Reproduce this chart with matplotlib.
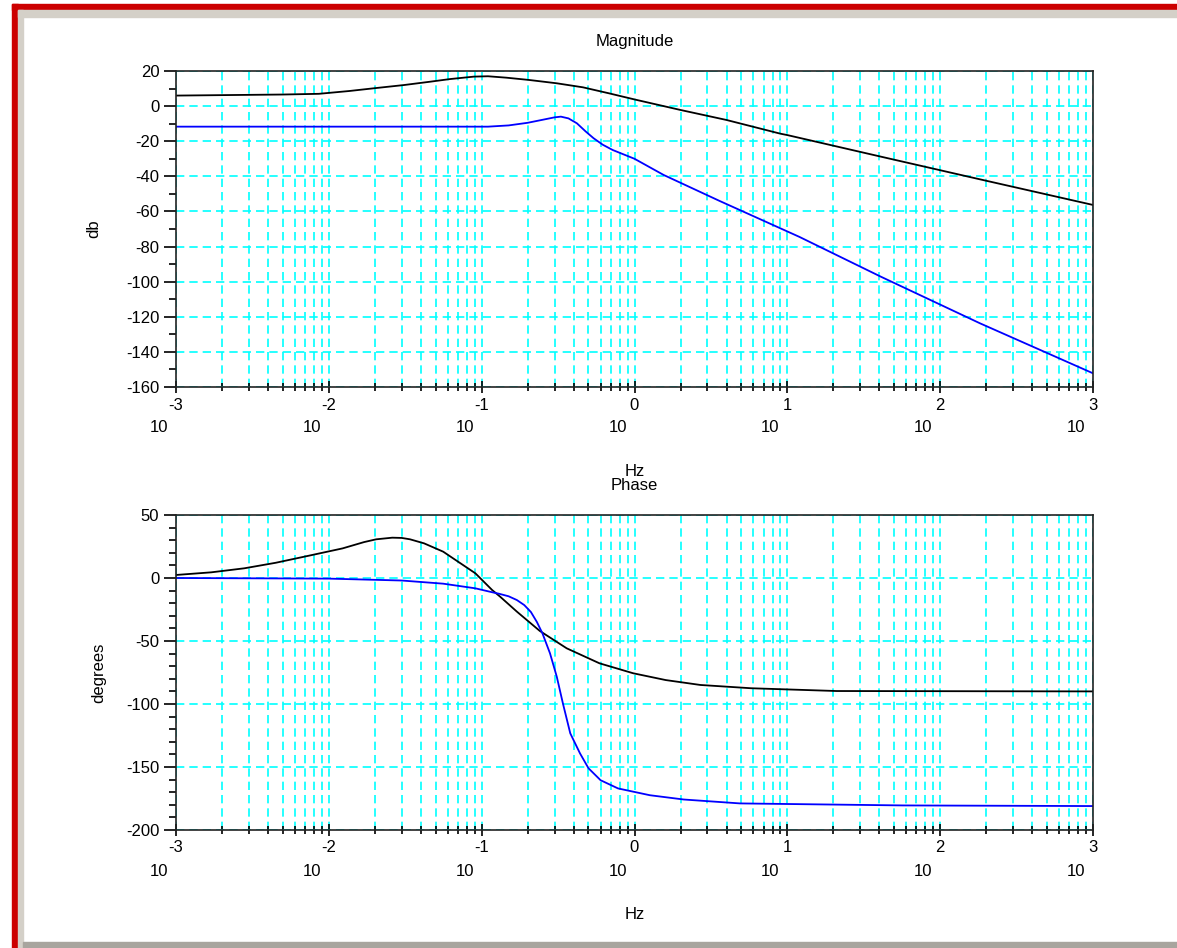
import matplotlib
matplotlib.use("Agg")
import matplotlib.pyplot as plt
from matplotlib.patches import Rectangle
from matplotlib.ticker import FixedLocator, NullFormatter

plt.rcParams['font.family'] = ['Liberation Sans', 'DejaVu Sans']
plt.rcParams['axes.unicode_minus'] = False

# Magnitude (dB)
mag_f_black = [0.001, 0.005, 0.0086, 0.0136, 0.0204, 0.031, 0.046, 0.062, 0.089,
               0.11, 0.145, 0.204, 0.31, 0.46, 0.68, 1.0, 2.0, 4.0, 9.0, 10.0, 41.0, 182.0, 1000.0]
mag_black = [6.0, 6.6, 7.0, 8.6, 10.3, 12.0, 13.9, 15.4, 16.8,
             17.0, 16.2, 14.9, 13.0, 10.7, 7.3, 3.8, -2.2, -7.9, -15.7, -16.5, -28.8, -41.7, -56.3]

mag_f_blue = [0.001, 0.11, 0.15, 0.2, 0.25, 0.3, 0.33, 0.37, 0.42, 0.48, 0.54, 0.62, 0.72,
              1.0, 1.55, 3.6, 9.0, 12.0, 41.0, 182.0, 1000.0]
mag_blue = [-11.7, -11.7, -11.0, -9.5, -7.8, -6.4, -6.0, -7.0, -9.8, -14.5, -18.3, -22.0, -25.0,
            -30.0, -39.2, -54.0, -69.6, -74.5, -97.2, -123.7, -152.2]

# Phase (degrees)
ph_f_black = [0.001, 0.0017, 0.0028, 0.0045, 0.0074, 0.0123, 0.017, 0.0204, 0.026, 0.03,
              0.034, 0.042, 0.056, 0.091, 0.117, 0.132, 0.17, 0.24, 0.36, 0.59, 0.98,
              1.6, 2.7, 5.8, 21.0, 1000.0]
ph_black = [2.4, 4.5, 7.7, 12.1, 17.7, 23.5, 28.5, 30.7, 32.0, 31.8,
            30.7, 27.5, 20.9, 3.7, -9.5, -14.8, -26.7, -42.0, -55.8, -67.7, -75.6,
            -81.0, -84.9, -87.5, -89.7, -90.0]

ph_f_blue = [0.001, 0.01, 0.03, 0.056, 0.091, 0.117, 0.13, 0.15, 0.17, 0.19,
             0.21, 0.23, 0.25, 0.28, 0.31, 0.34, 0.38, 0.44, 0.5, 0.6, 0.78,
             1.26, 2.1, 4.9, 57.0, 1000.0]
ph_blue = [0.0, -0.5, -2.0, -4.5, -8.2, -11.3, -12.5, -14.5, -17.5, -21.5,
           -27.0, -35.0, -44.0, -59.8, -78.3, -99.5, -123.3, -139.2, -151.0, -160.5, -167.0,
           -172.4, -175.8, -178.9, -180.5, -181.0]

decades = [1e-3, 1e-2, 1e-1, 1e0, 1e1, 1e2, 1e3]
exponents = ['-3', '-2', '-1', '0', '1', '2', '3']
minor_pos = [m * d for d in decades[:-1] for m in range(2, 10)]

W, H = 1177, 948
fig = plt.figure(figsize=(W / 100, H / 100), dpi=100)
fig.patch.set_facecolor('white')


def box(x0, y0, x1, y1, color):
    fig.patches.append(Rectangle((x0 / W, 1 - y1 / H), (x1 - x0) / W, (y1 - y0) / H,
                                 transform=fig.transFigure, color=color, zorder=0))


# window frame
box(12, 4, W, 10, '#cc0000')
box(12, 4, 18, H, '#cc0000')
box(18, 10, W, 17, '#d4d0c8')
box(18, 10, 23, H, '#d4d0c8')
box(23, 942, W, H, '#a8a59e')

L, R = 176, 1093


def make_axes(top, bottom):
    return fig.add_axes([L / W, 1 - bottom / H, (R - L) / W, (bottom - top) / H])


def style(ax, ylim, ymajor, yminor, title, ylabel, ylabel_x):
    ax.set_xscale('log')
    ax.set_xlim(1e-3, 1e3)
    ax.set_ylim(*ylim)
    ax.xaxis.set_major_locator(FixedLocator(decades))
    ax.xaxis.set_minor_locator(FixedLocator(minor_pos))
    ax.xaxis.set_major_formatter(NullFormatter())
    ax.xaxis.set_minor_formatter(NullFormatter())
    ax.set_yticks(ymajor)
    ax.set_yticks(yminor, minor=True)
    ax.tick_params(axis='y', which='major', direction='out', length=9, width=1.2,
                   labelsize=12, pad=3)
    ax.tick_params(axis='y', which='minor', direction='out', length=5, width=1.2)
    ax.tick_params(axis='x', which='major', direction='inout', length=9, width=1.2)
    ax.tick_params(axis='x', which='minor', direction='inout', length=6, width=1.2)
    grid_kw = dict(color='#00ffff', linestyle=(0, (5, 3)), linewidth=1.2)
    ax.grid(True, which='both', axis='x', **grid_kw)
    ax.grid(True, which='major', axis='y', **grid_kw)
    ax.set_axisbelow(True)
    for s in ax.spines.values():
        s.set_linewidth(1.2)
        s.set_color('#222222')
    ax.set_title(title, fontsize=12, pad=18)
    ax.set_ylabel(ylabel, fontsize=12)
    ax.yaxis.set_label_coords(ylabel_x, 0.5)
    ax.set_xlabel('Hz', fontsize=12)
    ax.xaxis.set_label_coords(0.5, -0.245)
    for d, e in zip(decades, exponents):
        ax.annotate(e, xy=(d, 0), xycoords=('data', 'axes fraction'),
                    xytext=(0, -18 * 0.72), textcoords='offset points',
                    ha='center', va='center', fontsize=12)
        ax.annotate('10', xy=(d, 0), xycoords=('data', 'axes fraction'),
                    xytext=(-17 * 0.72, -41 * 0.72), textcoords='offset points',
                    ha='center', va='center', fontsize=12)


ax1 = make_axes(71, 387)
style(ax1, (-160, 20), list(range(-160, 21, 20)), list(range(-150, 20, 20)),
      'Magnitude', 'db', -0.081)
ax1.plot(mag_f_black, mag_black, color='black', linewidth=1.3)
ax1.plot(mag_f_blue, mag_blue, color='#0000ff', linewidth=1.3)

ax2 = make_axes(515, 830)
style(ax2, (-200, 50), list(range(-200, 51, 50)),
      [v for v in range(-200, 51, 10) if v % 50], 'Phase', 'degrees', -0.076)
ax2.plot(ph_f_black, ph_black, color='black', linewidth=1.3)
ax2.plot(ph_f_blue, ph_blue, color='#0000ff', linewidth=1.3)

fig.savefig('out.png', dpi=100)
